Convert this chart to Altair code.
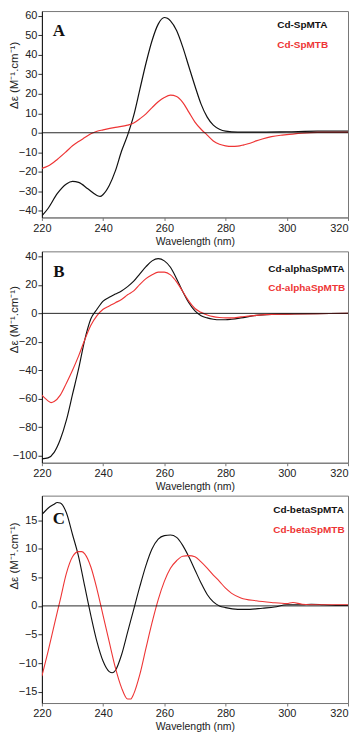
import altair as alt
import pandas as pd

# ---------------- data ----------------
wl_A_black = [220, 222, 225, 228, 230, 232, 235, 238, 239, 240, 242, 244, 246, 248, 250, 252, 254, 256, 258, 260, 261, 262, 264, 266, 268, 270, 272, 274, 276, 278, 280, 284, 290, 300, 310, 320]
cd_A_black = [-42.7, -38.9, -31.3, -26.3, -25.0, -25.5, -28.8, -32.2, -32.7, -31.7, -27.1, -19.6, -9.5, -1.2, 8.9, 22.3, 35.7, 47.4, 55.8, 59.2, 58.8, 57.5, 52.5, 44.1, 34.0, 24.0, 14.7, 8.0, 3.9, 1.8, 0.8, 0.3, 0.3, 0.5, 0.8, 0.8]
wl_A_red = [220, 222, 225, 228, 230, 232, 234, 236, 238, 240, 244, 248, 250, 252, 254, 256, 258, 260, 262, 264, 266, 268, 270, 272, 274, 276, 278, 280, 282, 284, 286, 288, 290, 292, 295, 298, 300, 305, 310, 315, 320]
cd_A_red = [-18.3, -17.1, -13.7, -9.6, -6.7, -4.5, -2.5, -0.5, 0.8, 1.5, 2.8, 3.9, 5.0, 7.2, 9.7, 12.9, 15.9, 18.1, 19.3, 18.6, 15.6, 10.6, 5.5, 1.8, -1.2, -4.2, -5.9, -6.7, -7.0, -6.9, -6.2, -5.4, -4.2, -3.2, -2.0, -1.3, -1.0, -0.2, 0.2, 0.2, 0.2]

wl_B_black = [220, 222, 224, 226, 228, 230, 232, 234, 236, 238, 240, 242, 244, 246, 248, 250, 252, 254, 256, 258, 260, 262, 264, 266, 268, 270, 272, 274, 276, 278, 280, 282, 285, 290, 295, 300, 310, 320]
cd_B_black = [-102.3, -101.6, -97.7, -88.7, -75.1, -57.0, -38.9, -18.6, -3.8, 2.9, 8.6, 11.3, 13.6, 15.8, 18.8, 22.6, 27.8, 32.8, 36.9, 38.5, 36.9, 32.4, 24.4, 15.4, 7.5, 1.8, -1.6, -3.2, -4.1, -4.5, -4.5, -4.1, -3.2, -1.4, -0.7, -0.5, -0.2, 0.0]
wl_B_red = [220, 222, 223, 224, 226, 228, 230, 232, 234, 236, 238, 240, 242, 244, 246, 248, 250, 252, 254, 256, 258, 260, 262, 264, 266, 268, 270, 272, 274, 276, 278, 280, 282, 285, 290, 295, 300, 310, 320]
cd_B_red = [-57.5, -61.5, -62.7, -62.0, -57.5, -49.1, -40.0, -29.9, -18.6, -8.4, -1.6, 2.9, 5.2, 7.5, 9.7, 13.1, 15.8, 20.4, 24.4, 27.1, 29.0, 29.0, 27.1, 22.2, 15.4, 8.6, 3.4, 0.7, -1.1, -2.3, -2.9, -3.2, -3.2, -2.5, -1.4, -0.7, -0.5, -0.2, 0.0]

wl_C_black = [220, 222, 224, 225, 226, 228, 230, 232, 234, 236, 238, 240, 242, 243, 244, 246, 248, 250, 252, 254, 256, 258, 260, 262, 264, 266, 268, 270, 272, 274, 276, 278, 280, 284, 288, 292, 296, 300, 305, 308, 312, 316, 320]
cd_C_black = [16.0, 17.1, 17.8, 18.1, 18.0, 16.3, 12.5, 8.6, 3.4, -1.7, -6.3, -9.7, -11.5, -11.7, -11.3, -8.6, -4.6, -0.6, 3.4, 7.1, 10.0, 11.7, 12.3, 12.4, 12.0, 10.6, 8.6, 6.3, 4.0, 2.0, 0.7, 0.0, -0.3, -0.6, -0.6, -0.4, -0.2, 0.2, 0.2, 0.3, 0.2, 0.1, 0.1]
wl_C_red = [220, 222, 224, 226, 228, 230, 232, 233, 234, 236, 238, 240, 242, 244, 246, 248, 249, 250, 252, 254, 256, 258, 260, 262, 264, 266, 268, 270, 272, 274, 276, 278, 280, 282, 285, 290, 295, 300, 302, 305, 310, 315, 320]
cd_C_red = [-12.3, -8.0, -3.4, 1.1, 5.7, 8.6, 9.5, 9.5, 9.1, 6.8, 2.9, -1.7, -6.3, -10.8, -14.3, -16.3, -16.3, -15.4, -12.0, -7.4, -2.9, 1.1, 4.3, 6.6, 7.9, 8.7, 8.8, 8.6, 7.7, 6.6, 5.4, 4.3, 3.1, 2.2, 1.4, 0.9, 0.6, 0.4, 0.6, 0.3, 0.2, 0.2, 0.2]

names_A = ["Cd-SpMTA", "Cd-SpMTB"]
names_B = ["Cd-alphaSpMTA", "Cd-alphaSpMTB"]
names_C = ["Cd-betaSpMTA", "Cd-betaSpMTB"]
letters = ["A", "B", "C"]

x_ticks = [220, 240, 260, 280, 300, 320]
y_ticks_A = [-40, -30, -20, -10, 0, 10, 20, 30, 40, 50, 60]
y_ticks_B = [-100, -80, -60, -40, -20, 0, 20, 40]
y_ticks_C = [-15, -10, -5, 0, 5, 10, 15]
zero_level = [0]

RED = "#ee3535"
W = 307
SANS = "Liberation Sans"


def panel(wa, ya, wb, yb, names, letter, ydom, yticks, height, letter_xy, leg_x, leg_y, title_y):
    df = pd.concat([
        pd.DataFrame({"wl": wa, "cd": ya, "series": names[0]}),
        pd.DataFrame({"wl": wb, "cd": yb, "series": names[1]}),
    ])
    xenc = alt.X("wl:Q", scale=alt.Scale(domain=[220, 320], nice=False, zero=False),
                 axis=alt.Axis(values=x_ticks, title="Wavelength (nm)", grid=False,
                               domainColor="#777", tickColor="#777", tickSize=3,
                               labelPadding=2, titlePadding=3, labelFontSize=11,
                               titleFontSize=10.5, labelColor="#222", titleColor="#222",
                               labelFont=SANS, titleFont=SANS, titleFontWeight="normal",
                               labelFlush=False, labelOverlap=False,
                               labelAlign={"expr": "datum.value >= 320 ? 'right' : 'center'"}))
    yaxis = alt.Axis(values=yticks, title="Δε (M⁻¹.cm⁻¹)", grid=False,
                     domainColor="#111", tickColor="#333", tickSize=4,
                     labelPadding=1, labelFontSize=11, titleFontSize=11.5,
                     labelColor="#222", titleColor="#222", labelFont=SANS,
                     titleFont=SANS, titleFontWeight="normal",
                     titleX=-22, titleY=title_y, titleAlign="center",
                     titleBaseline="bottom", labelFlush=False,
                     labelOverlap=False, tickCount=len(yticks))
    yscale = alt.Scale(domain=ydom, nice=False, zero=False)
    yenc = alt.Y("cd:Q", scale=yscale, axis=yaxis)
    lines = alt.Chart(df).mark_line(interpolate="monotone", clip=True).encode(
        x=xenc, y=yenc,
        color=alt.Color("series:N", scale=alt.Scale(domain=names, range=["#111111", RED]), legend=None),
        strokeWidth=alt.StrokeWidth("series:N", scale=alt.Scale(domain=names, range=[1.2, 1.1]), legend=None),
        detail="series:N",
    )
    zero = alt.Chart(pd.DataFrame({"cd": zero_level})).mark_rule(
        color="#111", strokeWidth=0.9).encode(y=alt.Y("cd:Q", scale=yscale, axis=yaxis))
    let = alt.Chart(pd.DataFrame({"t": [letter]})).mark_text(
        font="Liberation Serif", fontWeight="bold", fontSize=17, color="#111",
        align="center", baseline="middle").encode(
        x=alt.value(letter_xy[0]), y=alt.value(letter_xy[1]), text="t:N")
    legA = alt.Chart(pd.DataFrame({"t": [names[0]]})).mark_text(
        font=SANS, fontWeight="bold", fontSize=10, color="#111",
        align="left", baseline="middle").encode(
        x=alt.value(leg_x), y=alt.value(leg_y[0]), text="t:N")
    legB = alt.Chart(pd.DataFrame({"t": [names[1]]})).mark_text(
        font=SANS, fontWeight="bold", fontSize=10, color=RED,
        align="left", baseline="middle").encode(
        x=alt.value(leg_x), y=alt.value(leg_y[1]), text="t:N")
    return alt.layer(lines, zero, let, legA, legB).properties(width=W, height=height)


pA = panel(wl_A_black, cd_A_black, wl_A_red, cd_A_red, names_A, letters[0],
           [-43.5, 62.5], y_ticks_A, 207, (17, 20), 236, (14, 34), 64)
pB = panel(wl_B_black, cd_B_black, wl_B_red, cd_B_red, names_B, letters[1],
           [-105, 43.6], y_ticks_B, 212, (17, 21), 227, (18, 37), 68)
pC = panel(wl_C_black, cd_C_black, wl_C_red, cd_C_red, names_C, letters[2],
           [-17, 19.3], y_ticks_C, 208, (17, 23), 232, (14, 34), 60)

chart = alt.vconcat(pA, pB, pC, spacing=2).properties(
    padding=0, background="white"
).configure_view(stroke="#777", strokeWidth=1)

chart.save("out.html", embed_options={"renderer": "svg", "actions": False})
